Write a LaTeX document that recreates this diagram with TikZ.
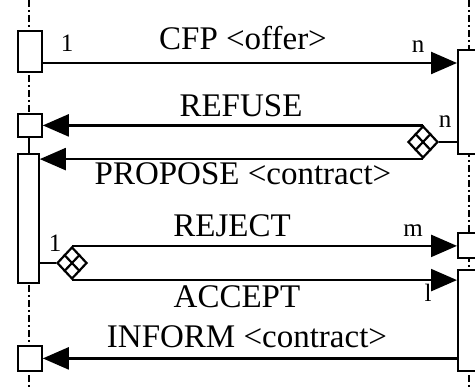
\documentclass[tikz,border=0pt]{standalone}
\usepackage{fontspec}
\setmainfont{Liberation Serif}
\usetikzlibrary{arrows.meta,shapes.geometric,calc}
\begin{document}
\begin{tikzpicture}[x=1pt,y=-1pt,
  lifeline/.style={line width=1.6pt,dash pattern=on 7pt off 3pt on 2pt off 3pt},
  actbox/.style={draw,line width=1.8pt,fill=white,inner sep=0pt,anchor=north west},
  msg/.style={line width=2.4pt,-{Triangle[length=26pt,width=22pt]}},
  plain/.style={line width=2.4pt},
  label/.style={font=\fontsize{33}{33}\selectfont,anchor=base,inner sep=0pt},
  card/.style={font=\fontsize{25}{25}\selectfont,anchor=base,inner sep=0pt},
  xorgate/.style={diamond,draw,line width=2.2pt,fill=white,inner sep=0pt,
    minimum width=30pt,minimum height=32pt}]
\useasboundingbox (0,0) rectangle (475,387);

% lifelines
\draw[lifeline] (29,0) -- (29,387);
\draw[lifeline] (469,0) -- (469,387);

% activation boxes, initiator side
\node[actbox,minimum width=24pt,minimum height=41pt] (L1) at (17,30) {};
\node[actbox,minimum width=24pt,minimum height=23pt] (L2) at (17,113) {};
\node[actbox,minimum width=21pt,minimum height=129pt] (L3) at (17,153) {};
\node[actbox,minimum width=24pt,minimum height=25pt] (L4) at (17,345) {};
\draw[line width=1.8pt] (L2.south -| 29,0) -- (L3.north -| 29,0);

% activation boxes, participant side
\node[actbox,minimum width=24pt,minimum height=104pt] (R1) at (457,49) {};
\node[actbox,minimum width=24pt,minimum height=25pt] (R2) at (457,232) {};
\node[actbox,minimum width=24pt,minimum height=101pt] (R3) at (457,269) {};

% xor decision points
\node[xorgate] (XR) at (423,142) {};
\node[xorgate] (XL) at (72,263) {};
\foreach \g in {XR,XL}{
  \draw[line width=2.2pt] ($(\g.north)!0.5!(\g.east)$) -- ($(\g.south)!0.5!(\g.west)$);
  \draw[line width=2.2pt] ($(\g.north)!0.5!(\g.west)$) -- ($(\g.south)!0.5!(\g.east)$);
}

% messages
\draw[msg] (L1.east |- 0,63) -- (R1.west |- 0,63);
\draw[plain] (XR.east) -- (XR.east -| R1.west);
\draw[msg] (XR.north) |- (L2.east);
\draw[msg] (XR.south) -- (XR.south -| L3.east);
\draw[plain] (L3.east |- XL.west) -- (XL.west);
\draw[msg] (XL.north) -- (XL.north -| R2.west);
\draw[msg] (XL.south) -- (XL.south -| R3.west);
\draw[msg] (R3.west |- L4.east) -- (L4.east);

% message labels
\node[label] (tCFP) at (243,50) {CFP <offer>};
\node[label] (tREF) at (241,117) {REFUSE};
\node[label] (tPRO) at (243,185) {PROPOSE <contract>};
\node[label] (tREJ) at (232,237) {REJECT};
\node[label] (tACC) at (237,308) {ACCEPT};
\node[label] (tINF) at (247,348) {INFORM <contract>};

% cardinalities
\node[card] (c1) at (67,52) {1};
\node[card] (c2) at (418,53) {n};
\node[card] (c3) at (445,128) {n};
\node[card] (c4) at (55,252) {1};
\node[card] (c5) at (413,237) {m};
\node[card] (c6) at (428,302) {l};
\end{tikzpicture}
\end{document}
